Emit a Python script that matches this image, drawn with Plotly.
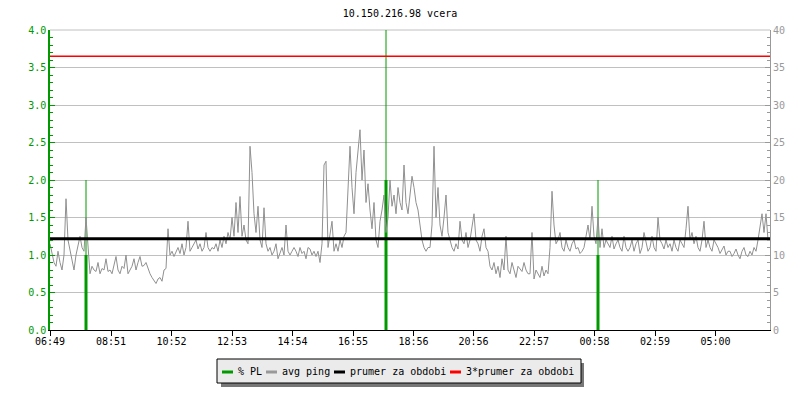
import plotly.graph_objects as go
import pandas as pd

# avg ping [ms], one sample every 4 minutes from 06:49
ping_ms = [
    11.5, 10, 9, 8.5, 10.5, 9, 8, 10, 17.5, 12,
    10.5, 9.5, 8, 10, 11.5, 12.5, 11, 10.5, 15, 10.5,
    7.5, 8.5, 8, 7.8, 9, 7.5, 8.2, 8, 9.5, 7.8,
    8, 7.5, 8.5, 9.8, 8, 7.5, 8.5, 8.2, 10, 7.5,
    8, 8.5, 9.5, 8, 9, 9.8, 8.5, 8.6, 9, 8.2,
    7.5, 7, 6.5, 6.2, 6.8, 7, 6.5, 8, 8.2, 13.5,
    10, 10.5, 9.8, 10.5, 11, 10.2, 11.5, 10, 11, 14.5,
    10.5, 11, 11.5, 12, 10.8, 11.5, 10.5, 11, 13, 11,
    10.5, 11, 10.8, 11.5, 10.5, 12, 11, 12.5, 11.5, 13,
    12, 15, 12.5, 17, 13, 17.8, 12.5, 14, 12, 11.5,
    24.5, 21, 15.5, 13, 16.5, 12, 11, 16.3, 11.5, 10.5,
    11, 10, 10.5, 11.5, 9.5, 10.2, 11, 10, 14, 10.5,
    10, 10.5, 11, 10.5, 9.8, 11, 10.2, 10.5, 9.5, 11,
    10.8, 10, 10.5, 9.8, 10.5, 9, 11.5, 22, 22.5, 11,
    13, 14.5, 10.5, 11.5, 10.5, 12, 11, 12.5, 13, 20,
    24.5, 19, 15.5, 21, 24.5, 26.7, 20, 24, 17, 19.5,
    16, 13.5, 17, 12, 11, 14.5, 16, 18, 13, 15,
    20, 16.5, 18, 15.5, 19, 17, 16, 22, 17, 15.5,
    18, 20.5, 19, 17, 16, 14, 12, 11, 10.5, 11,
    11, 14, 24.5, 15, 19, 14, 12.5, 15, 18, 13,
    12, 11, 10.5, 11.5, 10.8, 14.5, 12, 11.5, 13, 11,
    12, 13.5, 15.5, 12, 11.5, 10.5, 12.5, 13.5, 11, 10.5,
    8.5, 8, 9, 7.5, 8.5, 7, 9.5, 8, 12.5, 8,
    7.5, 9, 8, 7, 8.5, 8.2, 7.8, 9, 8, 7.5,
    7.5, 13, 6.8, 8, 7.5, 7, 8.5, 7.2, 8, 7.5,
    11, 18.5, 14, 11.5, 12, 13, 11, 10.5, 12, 11,
    10.5, 11.5, 12, 10.8, 11, 10.2, 10.5, 11, 12.5, 14,
    12, 16.5, 12.5, 11.5, 15, 11, 13.5, 11, 12, 11.5,
    11, 12.5, 10.8, 11.5, 12, 11, 10.5, 12.5, 11, 10.5,
    11, 12, 10.5, 11.5, 12, 10.2, 11, 13, 11.5, 10.5,
    11, 12.5, 11, 10.5, 15, 12, 11.5, 10.8, 12, 11,
    11.5, 10.5, 12, 11, 10.5, 12, 11.5, 11, 13.5, 16.5,
    12, 13, 11.5, 12.5, 11, 10.5, 12, 14.5, 11, 12,
    11, 10.5, 12, 11.5, 11, 10.2, 10.8, 11.2, 10, 10.5,
    10.5, 9.8, 10.2, 10.8, 10, 9.5, 10.5, 11, 10, 9.8,
    10.5, 10, 11, 10.5, 12, 14, 15.5, 13, 15.5, 12,
]

start = pd.Timestamp("2024-05-14 06:49")
end = start + pd.Timedelta(hours=24)
ping_times = pd.date_range(start, periods=len(ping_ms), freq="4min")

# packet loss spikes [%]
pl_times = ["2024-05-14 08:01", "2024-05-14 18:01", "2024-05-15 01:05"]
pl_peak = [2.0, 4.0, 2.0]
pl_level = [1.0, 2.0, 1.0]

mean_ping = 12.17  # prumer za obdobi

tick_times = ["2024-05-14 06:49", "2024-05-14 08:51", "2024-05-14 10:52",
              "2024-05-14 12:53", "2024-05-14 14:54", "2024-05-14 16:55",
              "2024-05-14 18:56", "2024-05-14 20:56", "2024-05-14 22:57",
              "2024-05-15 00:58", "2024-05-15 02:59", "2024-05-15 05:00"]
tick_labels = ["06:49", "08:51", "10:52", "12:53", "14:54", "16:55",
               "18:56", "20:56", "22:57", "00:58", "02:59", "05:00"]

GREEN = "#009a00"
GRAY = "#999999"
FONT = "DejaVu Sans Mono"

fig = go.Figure()

# avg ping
fig.add_trace(go.Scatter(x=ping_times, y=ping_ms, mode="lines", yaxis="y2",
                         line=dict(color="#909090", width=1),
                         name="avg ping"))

# % PL (thin peak + thick body)
xs, ys_peak, ys_lvl = [], [], []
for t, p, l in zip(pl_times, pl_peak, pl_level):
    xs += [t, t, None]
    ys_peak += [0, p, None]
    ys_lvl += [0, l, None]
fig.add_trace(go.Scatter(x=xs, y=ys_peak, mode="lines",
                         line=dict(color=GREEN, width=1), name="% PL"))
fig.add_trace(go.Scatter(x=xs, y=ys_lvl, mode="lines",
                         line=dict(color=GREEN, width=3), name="% PL"))

# mean lines
fig.add_trace(go.Scatter(x=[start, end], y=[mean_ping, mean_ping], mode="lines",
                         yaxis="y2", line=dict(color="black", width=3),
                         name="prumer za obdobi"))
fig.add_trace(go.Scatter(x=[start, end], y=[3 * mean_ping, 3 * mean_ping],
                         mode="lines", yaxis="y2",
                         line=dict(color="red", width=1.5),
                         name="3*prumer za obdobi"))

# hand made legend like rrdtool
def px(x):
    return (x - 50) / 720

def py(y):
    return (330 - y) / 300

shapes = [
    # top border of the graph area (grid colour)
    dict(type="line", xref="paper", yref="paper", x0=0, x1=1, y0=1, y1=1,
         line=dict(color="#c0c0c0", width=1), layer="below"),
    dict(type="rect", xref="paper", yref="paper", x0=px(221), x1=px(584),
         y0=py(387), y1=py(363), fillcolor="#777777", line=dict(width=0),
         layer="below"),
    dict(type="rect", xref="paper", yref="paper", x0=px(217), x1=px(581),
         y0=py(383), y1=py(359), fillcolor="#ebebeb",
         line=dict(color="black", width=1)),
]
annotations = []
legend_items = [("% PL", GREEN, 222), ("avg ping", GRAY, 266),
                ("prumer za obdobi", "black", 334),
                ("3*prumer za obdobi", "red", 450)]
for label, col, x0 in legend_items:
    shapes.append(dict(type="line", xref="paper", yref="paper",
                       x0=px(x0), x1=px(x0 + 11), y0=py(372), y1=py(372),
                       line=dict(color=col, width=3)))
    annotations.append(dict(text=label, xref="paper", yref="paper",
                            x=px(x0 + 14), y=py(371), xanchor="left",
                            yanchor="middle", showarrow=False,
                            font=dict(family=FONT, size=10, color="black")))

fig.update_layout(
    width=800, height=400,
    margin=dict(l=50, r=30, t=30, b=70),
    paper_bgcolor="white", plot_bgcolor="white",
    showlegend=False, hovermode=False,
    title=dict(text="10.150.216.98 vcera", x=0.5, xanchor="center",
               y=1 - 13 / 400, yanchor="middle",
               font=dict(family=FONT, size=10, color="black")),
    font=dict(family=FONT, size=10),
    xaxis=dict(type="date", range=[start, end], tickvals=tick_times,
               ticktext=tick_labels, ticks="outside", ticklen=5,
               tickcolor="black", showline=True, linecolor="black",
               linewidth=1, showgrid=False, zeroline=False, automargin=False,
               ticklabelstandoff=-3,
               tickfont=dict(color="black", size=10, family=FONT)),
    yaxis=dict(range=[0, 4], dtick=0.5, tickformat=".1f", ticks="inside",
               ticklen=5, tickcolor=GREEN, showline=True, linecolor=GREEN,
               linewidth=1.5, gridcolor="#c0c0c0", gridwidth=1,
               zeroline=False, automargin=False,
               tickfont=dict(color=GREEN, size=10, family=FONT),
               minor=dict(dtick=0.1, ticks="inside", ticklen=3,
                          tickcolor=GREEN, showgrid=False)),
    yaxis2=dict(range=[0, 40], dtick=5, overlaying="y", side="right",
                ticks="inside", ticklen=5, tickcolor=GRAY, showline=True,
                linecolor=GRAY, linewidth=1, showgrid=False, zeroline=False,
                automargin=False,
                tickfont=dict(color=GRAY, size=10, family=FONT),
                minor=dict(dtick=1, ticks="inside", ticklen=3,
                           tickcolor=GRAY, showgrid=False)),
    shapes=shapes,
    annotations=annotations,
)

# page body has a default 8px margin, drop it so the chart sits at 0,0
fig.write_html("out.html", config={"displayModeBar": False},
               post_script="document.body.style.margin='0';")
